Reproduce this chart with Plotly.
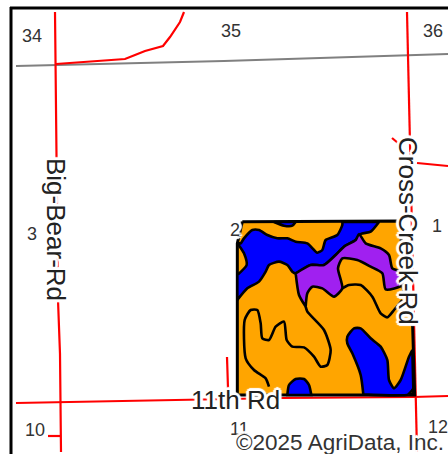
import plotly.graph_objects as go

# --- map geometry; field shapes are in 3x crop units of the field window
FIELD_ORIGIN = (224, 210)
FIELD_SCALE = 3

field_outline = [(55,35),(530,33),(535,225),(566,350),(572,555),(40,555),(40,100)]
blue_north = [(42,100),(50,100),(60,85),(85,60),(105,60),(130,75),(160,85),(190,85),(215,95),(250,100),(280,128),(295,120),
              (305,90),(340,75),(355,45),(355,36),(355,36),(465,36),(465,36),(440,65),(410,72),(395,90),(360,110),(335,135),(300,165),
              (260,165),(215,190),(205,185),(190,165),(165,155),(135,165),(125,185),(105,215),(70,235),(40,270),(40,270),
              (40,195),(40,195),(68,165),(60,130)]
purple_band = [(405,72),(425,100),(470,115),(495,135),(505,175),(530,185),(535,225),(485,238),(475,190),(440,170),
               (400,150),(355,145),(342,175),(355,235),(330,260),(295,235),(265,230),(250,250),(245,290),(245,290),(225,255),
               (215,190),(215,190),(260,165),(300,165),(335,135),(360,110),(395,90)]
blue_southeast = [(370,380),(390,355),(410,355),(440,385),(470,410),(490,450),(495,510),(510,535),(530,510),(555,440),
                  (565,420),(565,420),(568,535),(568,535),(555,553),(418,553),(418,553),(410,495),(385,430),(370,400)]
blue_south = [(190,555),(190,555),(195,525),(215,507),(240,507),(255,525),(262,555),(262,555)]
blue_sliver = [(150,36),(150,36),(215,36),(215,36),(205,47),(180,47)]
orange_corner = [(553,553),(568,538),(568,553)]
contour_west = [(135,530),(125,505),(90,480),(65,445),(62,330),(80,300),(100,300),(110,340),(115,385),(135,390),
                (155,350),(180,335),(188,390),(205,410),(240,412),(270,440),(290,470),(310,465),(320,420),(300,360),
                (250,305),(245,290)]
contour_middle = [(355,235),(375,225),(410,225),(445,260),(470,310),(490,322),(510,300),(535,270)]

road_west = [(55,12),(56,120),(57,165),(58,300),(60,354),(61,452)]
road_branch = [(56,64),(70,63),(90,61),(125,59),(135,55),(145,51),(163,46),(170,37),(180,22),(184,12)]
road_east = [(407,12),(410,135),(414,300),(416,397),(417,452)]
road_east_stub = [(392,138),(398,143)]
road_east_branch = [(417,163),(448,166)]
road_south = [(16,403),(188,400),(247,399),(282,398),(413,397),(448,396)]
road_south_stub = [(227,357),(228,388)]
road_tick_10 = [(48,436),(60,436)]
section_line = [(16,66),(224,61),(448,54)]

section_labels = ["34", "35", "36", "3", "2", "1", "10", "11", "12"]
section_x = [32, 231, 433, 32, 235, 437, 35, 239, 438]
section_y = [36, 31, 31, 234, 230, 226, 430, 429, 427]

road_labels = ["Big-Bear-Rd", "Cross-Creek-Rd", "11th Rd"]
road_label_x = [56, 408, 235]
road_label_y = [229, 231, 400]
road_label_angle = [90, 90, 0]
copyright_text = "©2025 AgriData, Inc."

ORANGE, BLUE, PURPLE = "#FFA500", "#0000FF", "#A020F0"
RED, GRAY = "#FF0000", "#808080"


def crop(points):
    return ([FIELD_ORIGIN[0] + p[0] / FIELD_SCALE for p in points],
            [FIELD_ORIGIN[1] + p[1] / FIELD_SCALE for p in points])


fig = go.Figure()


def line(points, color, width):
    fig.add_trace(go.Scatter(x=[p[0] for p in points], y=[p[1] for p in points], mode="lines",
                             line=dict(color=color, width=width), hoverinfo="skip"))


def region(points, fill, smooth=True, width=2.6):
    x, y = crop(points + points[:1])
    fig.add_trace(go.Scatter(x=x, y=y, mode="lines", fill="toself", fillcolor=fill,
                             line=dict(color="black", width=width, shape="spline" if smooth else "linear", smoothing=0.6),
                             hoverinfo="skip"))


def contour(points):
    x, y = crop(points)
    fig.add_trace(go.Scatter(x=x, y=y, mode="lines",
                             line=dict(color="black", width=2.6, shape="spline", smoothing=0.6), hoverinfo="skip"))


line(section_line, GRAY, 2.2)
for r in (road_west, road_branch, road_east, road_east_stub, road_east_branch, road_south, road_south_stub, road_tick_10):
    line(r, RED, 2.2)

region(field_outline, ORANGE, smooth=False, width=3)
region(blue_north, BLUE)
region(blue_southeast, BLUE)
region(blue_south, BLUE)
region(blue_sliver, BLUE)
region(purple_band, PURPLE)
region(orange_corner, ORANGE, smooth=False)
contour(contour_west)
contour(contour_middle)

HALO = ", ".join(f"{dx}px {dy}px 1px white" for dx, dy in
                 [(-2,0),(2,0),(0,-2),(0,2),(-2,-2),(2,-2),(-2,2),(2,2),(-3,0),(3,0),(0,-3),(0,3)])
for t, x, y in zip(section_labels, section_x, section_y):
    fig.add_annotation(x=x, y=y, text=t, showarrow=False,
                       font=dict(family="Liberation Sans", size=18, color="#333333", shadow=HALO))
for t, x, y, a in zip(road_labels, road_label_x, road_label_y, road_label_angle):
    fig.add_annotation(x=x, y=y, text=t, showarrow=False, textangle=a,
                       font=dict(family="Liberation Sans", size=26, color="#222222", shadow=HALO))
fig.add_annotation(x=446, y=442, text=copyright_text, showarrow=False, xanchor="right",
                   font=dict(family="Liberation Sans", size=22.5, color="#333333", shadow=HALO))

fig.update_layout(
    width=448, height=454, margin=dict(l=0, r=0, t=0, b=0), showlegend=False,
    paper_bgcolor="white", plot_bgcolor="white",
    xaxis=dict(range=[0, 448], visible=False, fixedrange=True),
    yaxis=dict(range=[454, 0], visible=False, fixedrange=True),
    shapes=[
        dict(type="line", x0=11, x1=11, y0=7, y1=454, line=dict(color="black", width=3)),
        dict(type="line", x0=10, x1=448, y0=8, y1=8, line=dict(color="black", width=3)),
    ],
)
fig.write_html("out.html", config={"displayModeBar": False},
               post_script="document.body.style.margin='0';document.body.style.overflow='hidden';")
